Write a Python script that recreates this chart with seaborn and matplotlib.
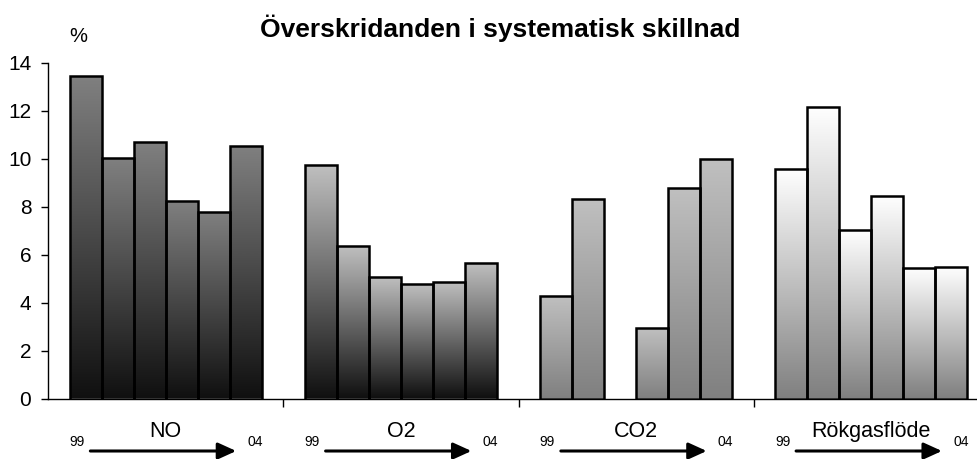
import numpy as np
import pandas as pd
import matplotlib
matplotlib.use("Agg")
import matplotlib.pyplot as plt
import seaborn as sns
from matplotlib.colors import LinearSegmentedColormap
from matplotlib import transforms

# ---- data ----
groups = ["NO", "O2", "CO2", "Rökgasflöde"]
years = ["1999", "2000", "2001", "2002", "2003", "2004"]
no_vals = [13.45, 10.03, 10.69, 8.24, 7.78, 10.51]
o2_vals = [9.73, 6.37, 5.08, 4.76, 4.85, 5.66]
co2_vals = [4.27, 8.31, np.nan, 2.92, 8.78, 9.98]
rok_vals = [9.55, 12.16, 7.01, 8.44, 5.43, 5.49]
yticks = [0, 2, 4, 6, 8, 10, 12, 14]
start_label = "99"
end_label = "04"
title = "Överskridanden i systematisk skillnad"
unit_label = "%"

top_colors = ["#808080", "#c0c0c0", "#c0c0c0", "#ffffff"]
bottom_colors = ["#101010", "#101010", "#808080", "#808080"]

series = [no_vals, o2_vals, co2_vals, rok_vals]
rows = []
for g, vals in zip(groups, series):
    for yr, v in zip(years, vals):
        rows.append({"group": g, "year": yr, "value": v})
df = pd.DataFrame(rows).dropna()

# ---- figure ----
sns.set_theme(style="white")
plt.rcParams["font.family"] = ["Liberation Sans", "DejaVu Sans"]
plt.rcParams["text.color"] = "black"

W, H = 977, 459
fig = plt.figure(figsize=(W / 100, H / 100), dpi=100)
ax_left, ax_right, ax_top, ax_bottom = 48, 989, 62.5, 398.5
ax = fig.add_axes([ax_left / W, (H - ax_bottom) / H,
                   (ax_right - ax_left) / W, (ax_bottom - ax_top) / H])

sns.barplot(data=df, x="group", y="value", hue="year", order=groups,
            hue_order=years, width=0.817, errorbar=None, legend=False,
            edgecolor="black", linewidth=1.8, palette=["#888888"] * 6, ax=ax)

grad = np.linspace(0, 1, 256).reshape(-1, 1)
for p in list(ax.patches):
    h = p.get_height()
    if not np.isfinite(h) or h == 0:
        continue
    x0, w = p.get_x(), p.get_width()
    gi = int(round(x0 + w / 2))
    cmap = LinearSegmentedColormap.from_list(
        "g%d" % gi, [bottom_colors[gi], top_colors[gi]])
    im = ax.imshow(grad, cmap=cmap, origin="lower", aspect="auto",
                   extent=(x0, x0 + w, 0, h), zorder=0.9, interpolation="bilinear")
    im.set_clip_path(p)
    p.set_facecolor("none")
    p.set_zorder(1)

ax.set_xlim(-0.5, 3.5)
ax.set_ylim(0, 14)
ax.set_yticks(yticks)
ax.set_xticks(range(len(groups)), groups)
ax.set_xticks([0.5, 1.5, 2.5], minor=True)
ax.set_xlabel("")
ax.set_ylabel("")

for s in ["top", "right"]:
    ax.spines[s].set_visible(False)
for s in ["left", "bottom"]:
    ax.spines[s].set_color("black")
    ax.spines[s].set_linewidth(1.0)

ax.tick_params(axis="y", left=True, length=5, width=1, pad=7,
               labelsize=15, colors="black", direction="out")
ax.tick_params(axis="x", which="major", bottom=True, length=0, pad=16,
               labelsize=15.5, colors="black")
ax.tick_params(axis="x", which="minor", bottom=True, length=6, width=1,
               color="black", direction="out")

# arrows under each group
trans = transforms.blended_transform_factory(ax.transData, fig.transFigure)
y_arrow = (H - 451) / H
y_txt = (H - 442) / H
for i in range(len(groups)):
    ax.annotate("", xy=(i + 0.30, y_arrow), xytext=(i - 0.32, y_arrow),
                xycoords=trans, textcoords=trans, annotation_clip=False,
                arrowprops=dict(arrowstyle="-|>,head_length=0.55,head_width=0.25",
                                mutation_scale=20, lw=2.2, color="black",
                                shrinkA=0, shrinkB=0))
    fig.text(trans.transform((i - 0.377, y_txt))[0] / fig.bbox.width, y_txt,
             start_label, ha="center", va="center", fontsize=10)
    fig.text(trans.transform((i + 0.38, y_txt))[0] / fig.bbox.width, y_txt,
             end_label, ha="center", va="center", fontsize=10)

fig.text(500 / W, 1 - 28 / H, title, ha="center", va="center",
         fontsize=19, fontweight="bold", color="black")
fig.text(78 / W, 1 - 37 / H, unit_label, ha="center", va="center",
         fontsize=14.5, color="black")

fig.savefig("out.png", dpi=100)
